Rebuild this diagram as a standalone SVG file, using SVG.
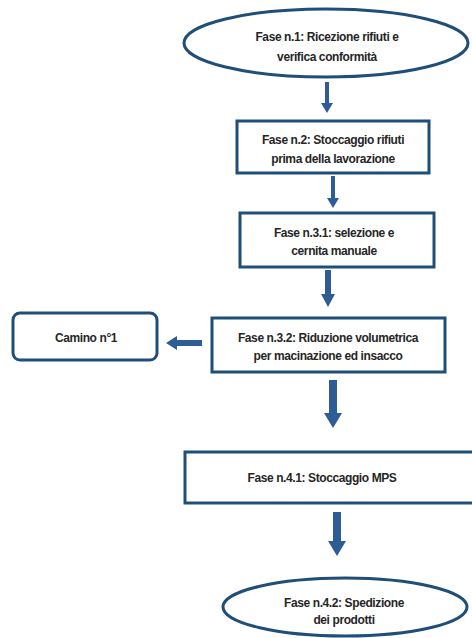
<svg xmlns="http://www.w3.org/2000/svg" width="472" height="638" viewBox="0 0 472 638">
<style>
.n{fill:#fff;stroke:#1f4e79;stroke-width:3}
.t{font-family:"Liberation Sans",Arial,sans-serif;font-weight:bold;font-size:12px;fill:#262626;text-anchor:middle;letter-spacing:-0.4px}
.a{fill:#2e5c96}
</style>
<rect width="472" height="638" fill="#fff"/>
<g id="connectors">
<polygon class="a" points="325,82 329,82 329,103 333,103 327,113 321,103 325,103"/>
<polygon class="a" points="331,176 335,176 335,198 339,198 333,208 327,198 331,198"/>
<polygon class="a" points="325,270 331,270 331,294 335,294 328,307 321,294 325,294"/>
<polygon class="a" points="202,340 202,346 177,346 177,350 166,343 177,336 177,340"/>
<polygon class="a" points="329,380 337,380 337,413 342,413 333,428 324,413 329,413"/>
<polygon class="a" points="333,512 341,512 341,541 346,541 337,556 328,541 333,541"/>
</g>
<g id="n1">
<ellipse class="n" cx="326" cy="43" rx="142" ry="34"/>
<text class="t" x="327" y="41">Fase n.1: Ricezione rifiuti e</text>
<text class="t" x="327" y="61">verifica conformità</text>
</g>
<g id="n2">
<rect class="n" x="237" y="121" width="192" height="52"/>
<text class="t" x="333" y="144">Fase n.2: Stoccaggio rifiuti</text>
<text class="t" x="333" y="163">prima della lavorazione</text>
</g>
<g id="n3">
<rect class="n" x="240" y="213" width="194" height="54"/>
<text class="t" x="334" y="237">Fase n.3.1: selezione e</text>
<text class="t" x="334" y="255">cernita manuale</text>
</g>
<g id="n4">
<rect class="n" x="212" y="318" width="233" height="54"/>
<text class="t" x="328" y="342">Fase n.3.2: Riduzione volumetrica</text>
<text class="t" x="328" y="360">per macinazione ed insacco</text>
</g>
<g id="camino">
<rect class="n" x="13" y="313" width="144" height="47" rx="7"/>
<text class="t" x="86" y="342">Camino n°1</text>
</g>
<g id="n5">
<rect class="n" x="185" y="452" width="290" height="51"/>
<text class="t" x="322" y="482">Fase n.4.1: Stoccaggio MPS</text>
</g>
<g id="n6">
<ellipse class="n" cx="345" cy="607" rx="122" ry="29"/>
<text class="t" x="344" y="607">Fase n.4.2: Spedizione</text>
<text class="t" x="344" y="624">dei prodotti</text>
</g>
</svg>
